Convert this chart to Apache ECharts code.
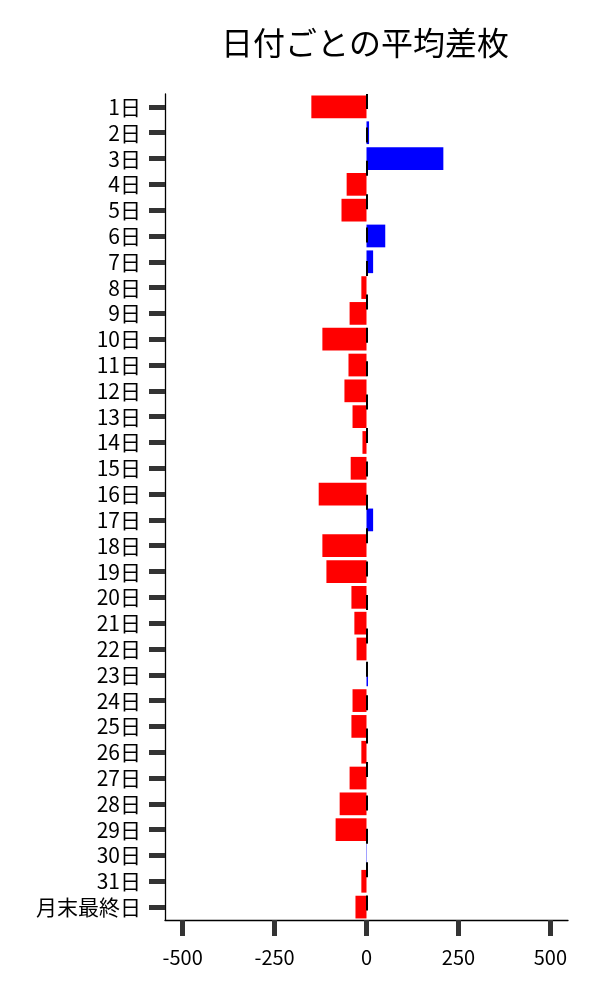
<!DOCTYPE html>
<html>
<head>
<meta charset="utf-8">
<script src="https://cdn.jsdelivr.net/npm/echarts@6/dist/echarts.min.js"></script>
<style>
html,body{margin:0;padding:0;background:#fff;}
#chart{width:600px;height:1000px;}
</style>
</head>
<body>
<div id="chart"></div>
<script>
const titleText = '日付ごとの平均差枚';
const categories = ['1日','2日','3日','4日','5日','6日','7日','8日','9日','10日','11日','12日','13日','14日','15日','16日','17日','18日','19日','20日','21日','22日','23日','24日','25日','26日','27日','28日','29日','30日','31日','月末最終日'];
const values = [-150, 7, 209, -54, -68, 51, 18, -14, -46, -120, -49, -60, -38, -11, -43, -130, 18, -120, -109, -41, -33, -27, 4, -38, -41, -14, -46, -73, -84, 1, -14, -30];
const xTicks = [-500, -250, 0, 250, 500];

const font = '"Noto Sans CJK JP", "Noto Sans", sans-serif';
const chart = echarts.init(document.getElementById('chart'), null, {renderer: 'canvas'});
chart.setOption({
  backgroundColor: '#ffffff',
  animation: false,
  title: {
    text: titleText,
    left: 360, top: 22, textAlign: 'center',
    textStyle: {fontFamily: font, fontSize: 32, fontWeight: 'normal', color: '#000'}
  },
  grid: {left: 165, right: 32, top: 94, bottom: 80, containLabel: false},
  xAxis: {
    type: 'value', min: -548, max: 548,
    axisLine: {show: true, onZero: false, lineStyle: {color: '#000', width: 1.3}},
    axisTick: {show: true, customValues: xTicks, length: 16, lineStyle: {color: '#333', width: 5}},
    axisLabel: {customValues: xTicks, margin: 27, fontFamily: font, fontSize: 20, color: '#000'},
    splitLine: {show: false}
  },
  yAxis: {
    type: 'category', data: categories, inverse: true,
    axisLine: {show: true, onZero: false, lineStyle: {color: '#000', width: 1.3}},
    axisTick: {show: true, alignWithLabel: true, interval: 0, length: 16, lineStyle: {color: '#333', width: 5}},
    axisLabel: {interval: 0, margin: 24, fontFamily: font, fontSize: 21, color: '#000'},
    splitLine: {show: false}
  },
  series: [{
    type: 'bar',
    data: values.map(v => ({value: v, itemStyle: {color: v >= 0 ? '#0000ff' : '#ff0000'}})),
    barWidth: '88%',
    markLine: {
      silent: true,
      symbol: ['none', 'none'],
      label: {show: false},
      lineStyle: {color: '#000', width: 2, type: [15, 18.4], dashOffset: 0},
      data: [{xAxis: 0}]
    }
  }]
});
</script>
</body>
</html>
